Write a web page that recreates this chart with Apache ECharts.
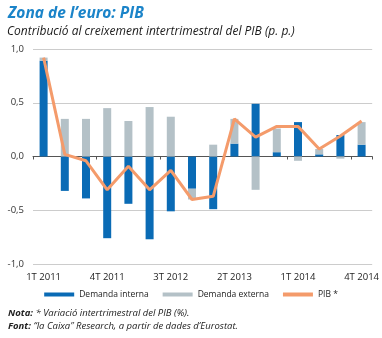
<!DOCTYPE html>
<html><head><meta charset="utf-8">
<script src="https://cdn.jsdelivr.net/npm/echarts@6/dist/echarts.min.js"></script>
<style>html,body{margin:0;padding:0;background:#fff}#c{width:382px;height:338px}</style>
</head><body><div id="c"></div>
<script>
const categories = ['1T 2011','2T 2011','3T 2011','4T 2011','1T 2012','2T 2012','3T 2012','4T 2012','1T 2013','2T 2013','3T 2013','4T 2013','1T 2014','2T 2014','3T 2014','4T 2014'];
const demandaInterna = [0.89,-0.32,-0.39,-0.76,-0.44,-0.77,-0.51,-0.30,-0.49,0.12,0.49,0.04,0.32,0.02,0.20,0.11];
const demandaExterna = [0.03,0.35,0.35,0.45,0.33,0.46,0.37,-0.10,0.11,0.23,-0.31,0.22,-0.04,0.05,-0.02,0.21];
const pib = [0.92,0.02,-0.04,-0.31,-0.09,-0.31,-0.13,-0.40,-0.37,0.35,0.18,0.28,0.28,0.07,0.19,0.33];
const yTicks = [-1, -0.5, 0, 0.5, 1];

const chart = echarts.init(document.getElementById('c'), null, {renderer:'canvas'});
const fmt = v => v.toFixed(1).replace('.', ',');
chart.setOption({
  animation:false,
  textStyle:{fontFamily:'Open Sans'},
  title:[
    {text:"Zona de l’euro: PIB", left:3, top:1, textStyle:{fontFamily:'Open Sans', fontSize:15.5, fontWeight:'bold', fontStyle:'italic', color:'#1b84c9'}},
    {text:'Contribució al creixement intertrimestral del PIB (p. p.)', left:2, top:21, textStyle:{fontFamily:'Open Sans', fontSize:12, fontWeight:'normal', fontStyle:'italic', color:'#1a1a1a'}}
  ],
  grid:{left:33, right:9, top:49, bottom:74, containLabel:false},
  legend:{
    bottom:34, left:'center', itemGap:14, itemWidth:30, itemHeight:4,
    textStyle:{fontSize:8.5, color:'#222', fontFamily:'Open Sans'},
    data:[
      {name:'Demanda interna', icon:'rect'},
      {name:'Demanda externa', icon:'rect'},
      {name:'PIB *', icon:'rect'}
    ]
  },
  xAxis:[
    {type:'category', data:categories, position:'bottom', axisLine:{onZero:false, show:false}, axisTick:{show:false},
     axisLabel:{interval:2, color:'#222', fontSize:9.5, margin:8}},
    {type:'category', data:categories, axisLine:{onZero:true, lineStyle:{color:'#555', width:1}}, axisTick:{show:true, length:3, lineStyle:{color:'#555'}}, axisLabel:{show:false}, position:'bottom'}
  ],
  yAxis:{type:'value', min:-1, max:1, interval:0.5,
    axisLabel:{formatter:fmt, color:'#333', fontSize:9.5, margin:9},
    axisLine:{show:false}, axisTick:{show:false},
    splitLine:{lineStyle:{color:'#ccc', width:1}}},
  series:[
    {name:'Demanda interna', type:'bar', stack:'a', barWidth:8, data:demandaInterna, itemStyle:{color:'#0a6bb5'}},
    {name:'Demanda externa', type:'bar', stack:'a', barWidth:8, data:demandaExterna, itemStyle:{color:'#b4c1c7'}},
    {name:'PIB *', type:'line', data:pib, symbol:'none', lineStyle:{color:'#f49b6b', width:3}, itemStyle:{color:'#f49b6b'}, z:5}
  ],
  graphic:[
    {type:'text', left:8, top:308, style:{text:'{b|Nota:} * Variació intertrimestral del PIB (%).', rich:{b:{fontWeight:'bold', fontStyle:'italic', fontSize:9.5, fontFamily:'Open Sans', fill:'#222'}}, fontStyle:'italic', fontSize:9.5, fontFamily:'Open Sans', fill:'#222'}},
    {type:'text', left:8, top:321, style:{text:'{b|Font:} “la Caixa” Research, a partir de dades d’Eurostat.', rich:{b:{fontWeight:'bold', fontStyle:'italic', fontSize:9.5, fontFamily:'Open Sans', fill:'#222'}}, fontStyle:'italic', fontSize:9.5, fontFamily:'Open Sans', fill:'#222'}}
  ]
});
</script></body></html>
